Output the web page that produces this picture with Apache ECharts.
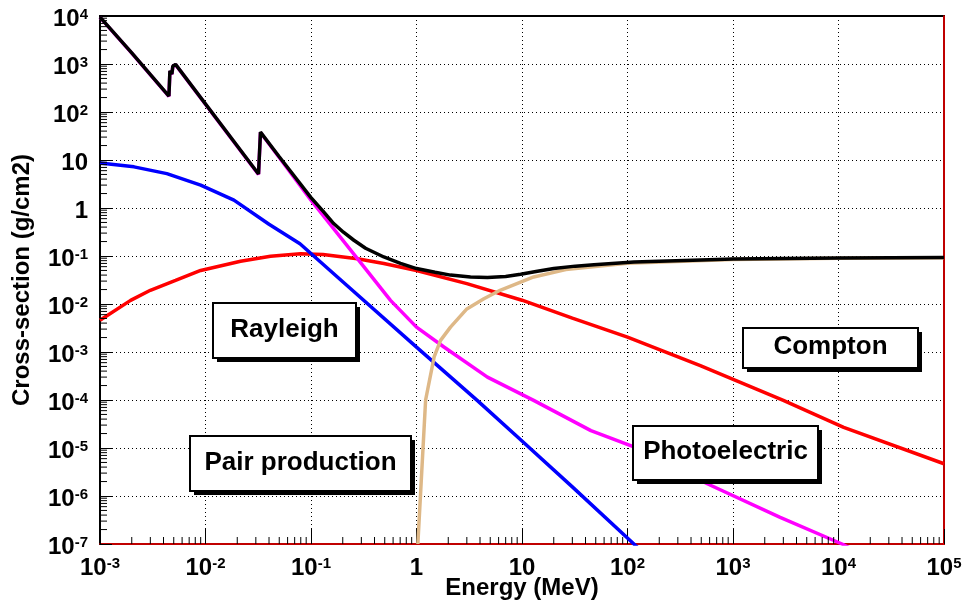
<!DOCTYPE html>
<html>
<head>
<meta charset="utf-8">
<script src="https://cdn.jsdelivr.net/npm/echarts@6/dist/echarts.min.js"></script>
<style>
  html, body { margin: 0; padding: 0; background: #fff; }
  #chart { width: 962px; height: 603px; }
</style>
</head>
<body>
<div id="chart"></div>
<script>
// Photon cross-sections versus energy (log-log), one curve per process plus the total.

// Decades shown on each axis (tick labels are 10^e)
const xDecades = [-3, -2, -1, 0, 1, 2, 3, 4, 5];
const yDecades = [-7, -6, -5, -4, -3, -2, -1, 0, 1, 2, 3, 4];
const minorMantissas = [2, 3, 4, 5, 6, 7, 8, 9];

// Total cross-section
const totalE = [0.001, 0.002, 0.0045, 0.0046, 0.0048, 0.0049, 0.0051, 0.0052, 0.0318, 0.0332, 0.05, 0.1, 0.13, 0.164, 0.203, 0.255, 0.329, 0.49, 0.705, 1.0, 1.5, 2.1, 3.25, 4.7, 7.0, 9.7, 14, 20, 32, 48, 115, 500, 1000, 10000, 100000];
const totalSigma = [9500, 1700, 215, 720, 620, 900, 820, 980, 5.1, 38, 11.7, 1.65, 0.86, 0.475, 0.313, 0.213, 0.145, 0.0955, 0.0705, 0.0547, 0.046, 0.040, 0.0365, 0.0355, 0.0375, 0.0417, 0.048, 0.0547, 0.0615, 0.066, 0.075, 0.083, 0.087, 0.091, 0.093];

// Photoelectric absorption
const photoE = [0.001, 0.002, 0.0045, 0.0046, 0.0048, 0.0049, 0.0051, 0.0052, 0.0318, 0.0332, 0.05, 0.1, 0.284, 0.567, 1.0, 1.82, 4.7, 12.9, 45, 115, 570, 2800, 10800, 20000];
const photoSigma = [9400, 1680, 212, 710, 610, 890, 810, 970, 5.0, 37.5, 11.3, 1.45, 0.081, 0.0119, 3.3e-3, 1.27e-3, 3.0e-4, 9.8e-5, 2.3e-5, 1.05e-5, 1.8e-6, 3.6e-7, 1e-7, 5e-8];

// Rayleigh (coherent) scattering
const rayleighE = [0.001, 0.0021, 0.0043, 0.009, 0.0186, 0.04, 0.0786, 0.2, 1.0, 3.76, 10, 30, 115, 250];
const rayleighSigma = [8.7, 7.2, 5.2, 3.0, 1.46, 0.46, 0.18, 0.029, 1.26e-3, 9.8e-5, 1.4e-5, 1.55e-6, 1e-7, 2e-8];

// Compton (incoherent) scattering
const comptonE = [0.001, 0.00195, 0.003, 0.0052, 0.009, 0.0215, 0.0413, 0.0794, 0.13, 0.275, 0.49, 1.0, 3.0, 10, 30, 100, 490, 3000, 11200, 100000];
const comptonSigma = [4.6e-3, 0.0119, 0.0193, 0.031, 0.050, 0.078, 0.099, 0.111, 0.107, 0.088, 0.070, 0.050, 0.0266, 0.012, 5.1e-3, 2.05e-3, 5.2e-4, 9.8e-5, 2.7e-5, 4.7e-6];

// Pair production (threshold near 1.022 MeV)
const pairE = [1.03, 1.22, 1.47, 1.69, 2.1, 3.0, 4.35, 6.2, 12.9, 26, 100, 1000, 10000, 100000];
const pairSigma = [1e-7, 1e-4, 7.9e-4, 1.75e-3, 3.3e-3, 7.9e-3, 0.0129, 0.0193, 0.0366, 0.052, 0.071, 0.085, 0.090, 0.092];

// Process labels
const labelTexts = ['Rayleigh', 'Compton', 'Photoelectric', 'Pair production'];

const FONT = '"Liberation Sans", Arial, Helvetica, sans-serif';
const xMin = Math.pow(10, xDecades[0]);
const xMax = Math.pow(10, xDecades[xDecades.length - 1]);
const yMin = Math.pow(10, yDecades[0]);
const yMax = Math.pow(10, yDecades[yDecades.length - 1]);

const zip = (xs, ys) => xs.map((x, i) => [x, ys[i]]);

// Minor tick positions 2..9 x 10^e inside each decade
const minorOf = (decades) => {
  const out = [];
  for (let i = 0; i < decades.length - 1; i++) {
    minorMantissas.forEach(m => out.push(m * Math.pow(10, decades[i])));
  }
  return out;
};
const xMinor = minorOf(xDecades);
const yMinor = minorOf(yDecades);

const powLabel = (value) => {
  const e = Math.round(Math.log10(value));
  if (e === 0) return '{b|1}';
  if (e === 1) return '{b|10}';
  return '{b|10}{s|' + e + '}';
};
const labelRich = {
  b: { fontFamily: FONT, fontWeight: 'bold', fontSize: 24, lineHeight: 26, color: '#000' },
  s: { fontFamily: FONT, fontWeight: 'bold', fontSize: 15, lineHeight: 15, padding: [0, 0, 8, 0], color: '#000' }
};

const curve = (name, xs, ys, color, z) => ({
  name, type: 'line', data: zip(xs, ys), showSymbol: false, symbol: 'none',
  lineStyle: { color, width: 3.5 }, itemStyle: { color }, z, clip: true, silent: true
});

const chart = echarts.init(document.getElementById('chart'), null, { renderer: 'canvas' });

// Boxed process labels with a drop shadow
const paveLayout = [
  { x1: 213, y1: 303, x2: 356, y2: 358 },
  { x1: 743, y1: 328, x2: 918, y2: 368 },
  { x1: 633, y1: 426, x2: 818, y2: 480 },
  { x1: 190, y1: 436, x2: 411, y2: 491 }
];
const graphics = [];
paveLayout.forEach((p, i) => {
  const w = p.x2 - p.x1, h = p.y2 - p.y1;
  graphics.push({ type: 'rect', shape: { x: p.x1 + 4, y: p.y1 + 4, width: w, height: h }, style: { fill: '#000' }, z: 100, silent: true });
  graphics.push({ type: 'rect', shape: { x: p.x1, y: p.y1, width: w, height: h }, style: { fill: '#fff', stroke: '#000', lineWidth: 2 }, z: 101, silent: true });
  graphics.push({ type: 'text', x: (p.x1 + p.x2) / 2, y: (p.y1 + p.y2) / 2 - 1, style: { text: labelTexts[i], fontFamily: FONT, fontWeight: 'bold', fontSize: 26, fill: '#000', align: 'center', verticalAlign: 'middle' }, z: 102, silent: true });
});

const tickSeries = (points, horizontal, len) => ({
  type: 'custom', silent: true, clip: false, z: 20,
  data: points,
  renderItem: (params, api) => {
    const p = api.coord([api.value(0), api.value(1)]);
    return {
      type: 'line',
      shape: horizontal ? { x1: p[0], y1: p[1], x2: p[0] + len, y2: p[1] } : { x1: p[0], y1: p[1], x2: p[0], y2: p[1] - len },
      style: { stroke: '#000', lineWidth: 1 }
    };
  }
});

chart.setOption({
  animation: false,
  backgroundColor: '#fff',
  grid: {
    left: 100, right: 18, top: 16, bottom: 59,
    containLabel: false, outerBoundsMode: 'none',
    show: true, borderColor: '#000', borderWidth: 2, backgroundColor: 'transparent'
  },
  xAxis: {
    type: 'log', logBase: 10, min: xMin, max: xMax, interval: 1,
    name: 'Energy (MeV)', nameLocation: 'middle', nameGap: 32, nameMoveOverlap: false,
    nameTextStyle: { fontFamily: FONT, fontWeight: 'bold', fontSize: 24, color: '#000' },
    axisLine: { show: true, onZero: false, lineStyle: { color: '#ff0000', width: 1.5 } },
    axisTick: { show: true, inside: true, length: 15, lineStyle: { color: '#000', width: 1 } },
    minorTick: { show: false },
    axisLabel: { formatter: powLabel, rich: labelRich, margin: 11 },
    splitLine: { show: true, lineStyle: { color: '#000', type: [1, 3], width: 1 } }
  },
  yAxis: [{
    type: 'log', logBase: 10, min: yMin, max: yMax, interval: 1,
    name: 'Cross-section (g/cm2)', nameLocation: 'middle', nameGap: 66, nameMoveOverlap: false,
    nameTextStyle: { fontFamily: FONT, fontWeight: 'bold', fontSize: 24, color: '#000' },
    axisLine: { show: true, onZero: false, lineStyle: { color: '#000', width: 2 } },
    axisTick: { show: true, inside: true, length: 12, lineStyle: { color: '#000', width: 1 } },
    minorTick: { show: false },
    axisLabel: { formatter: powLabel, rich: labelRich, margin: 12, padding: [6, 0, 0, 0] },
    splitLine: { show: true, lineStyle: { color: '#000', type: [1, 3], width: 1 } }
  }, {
    type: 'log', logBase: 10, min: yMin, max: yMax, position: 'right',
    axisLine: { show: true, onZero: false, lineStyle: { color: '#ff0000', width: 1.5 } },
    axisTick: { show: false }, axisLabel: { show: false }, splitLine: { show: false }
  }],
  series: [
    curve('Compton', comptonE, comptonSigma, '#ff0000', 3),
    curve('Rayleigh', rayleighE, rayleighSigma, '#0000ff', 4),
    curve('Photoelectric', photoE, photoSigma, '#ff00ff', 5),
    curve('Pair production', pairE, pairSigma, '#deb887', 6),
    curve('Total', totalE, totalSigma, '#000000', 7),
    tickSeries(xMinor.map(v => [v, yMin]), false, 7),
    tickSeries(yMinor.map(v => [xMin, v]), true, 7)
  ],
  graphic: graphics
});
</script>
</body>
</html>
